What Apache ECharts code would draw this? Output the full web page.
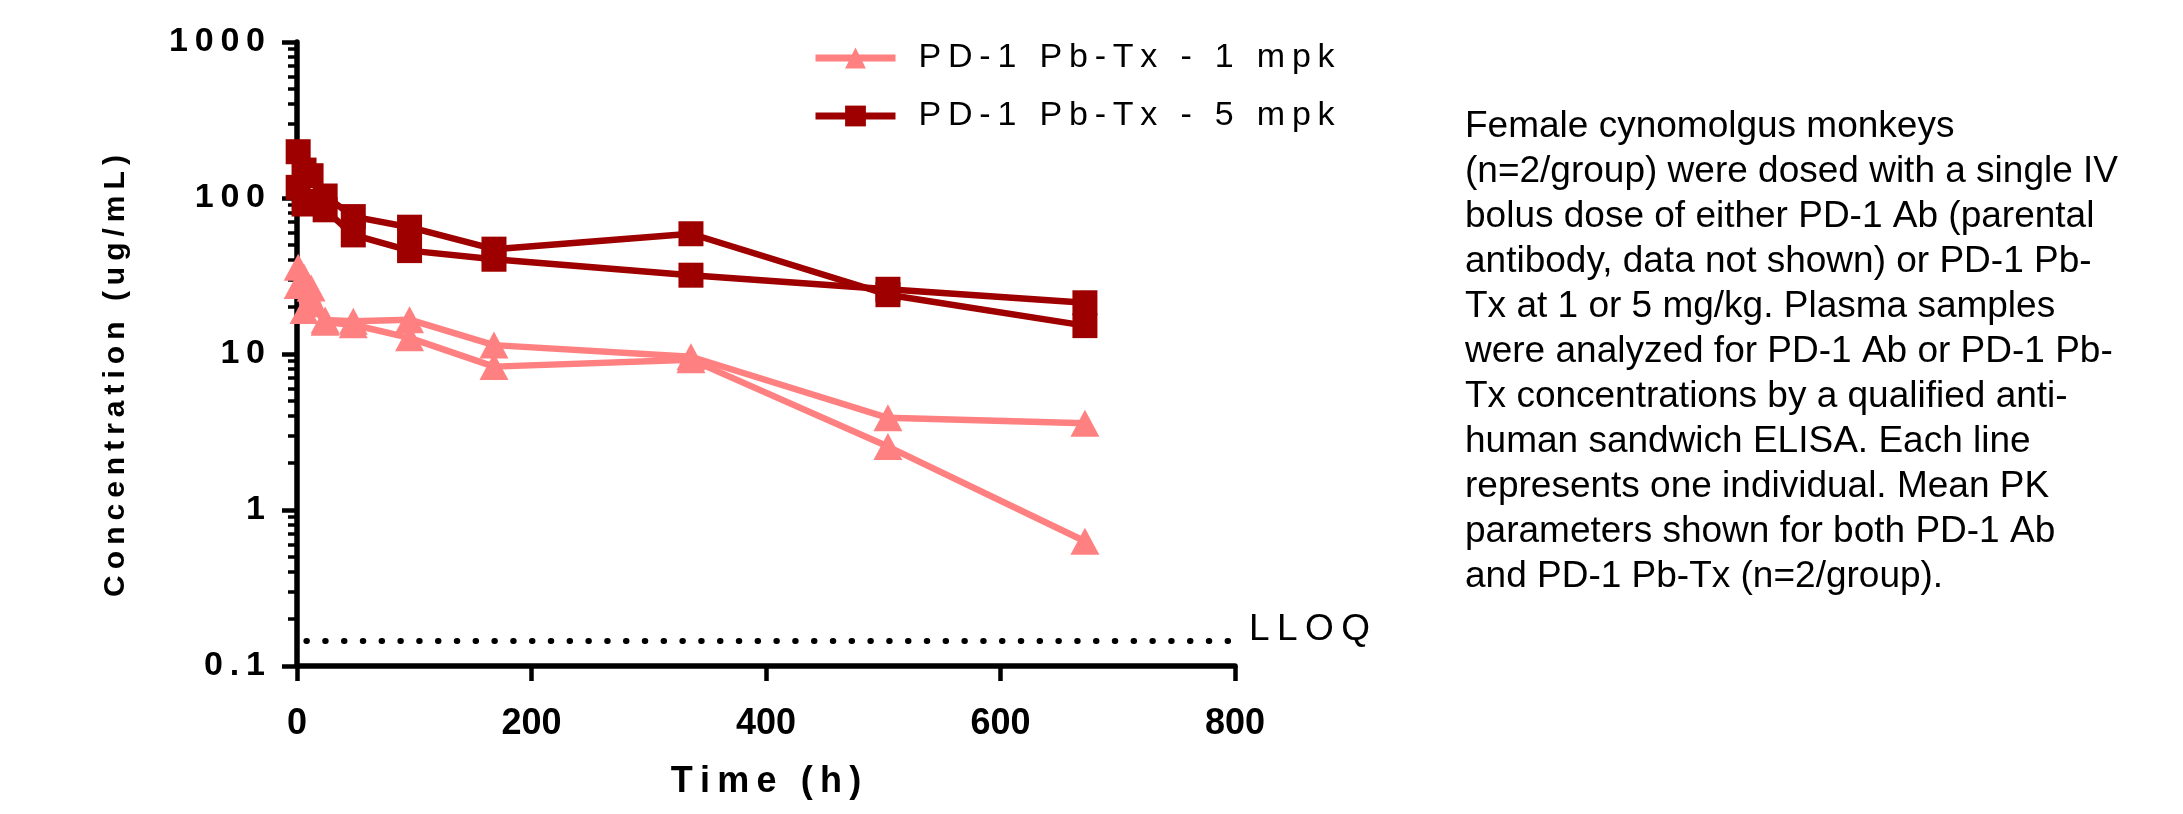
<!DOCTYPE html>
<html>
<head>
<meta charset="utf-8">
<script src="https://cdn.jsdelivr.net/npm/echarts@6/dist/echarts.min.js"></script>
<style>
  html, body { margin: 0; background: #fff; }
  #chart { width: 2183px; height: 814px; }
</style>
</head>
<body>
<div id="chart"></div>
<script>
// sampling times (h)
var times = [1, 6, 12, 24, 48, 96, 168, 336, 504, 672];
// PD-1 Pb-Tx 1 mpk, two animals
var mpk1_a = [36, 31, 26.5, 16.5, 16.2, 16.6, 11.4, 9.6, 3.9, 3.6];
var mpk1_b = [27.5, 19, 21, 16, 15.4, 12.7, 8.3, 9.2, 2.55, 0.63];
// PD-1 Pb-Tx 5 mpk, two animals
var mpk5_a = [198, 151, 139, 103, 76, 65, 47, 59, 24, 15.2];
var mpk5_b = [117, 91.5, 95, 84, 58, 46, 40.5, 32, 26, 21.3];
var lloq = 0.145;
var lloqFrom = 8;
var xTicks = [0, 200, 400, 600, 800];
var yMinorTicks = [0.2, 0.3, 0.4, 0.5, 0.6, 0.7, 0.8, 0.9, 2, 3, 4, 5, 6, 7, 8, 9,
  20, 30, 40, 50, 60, 70, 80, 90, 200, 300, 400, 500, 600, 700, 800, 900];
var legendNames = ['PD-1 Pb-Tx - 1 mpk', 'PD-1 Pb-Tx - 5 mpk'];
var caption = [
  'Female cynomolgus monkeys',
  '(n=2/group) were dosed with a single IV',
  'bolus dose of either PD-1 Ab (parental',
  'antibody, data not shown) or PD-1 Pb-',
  'Tx at 1 or 5 mg/kg. Plasma samples',
  'were analyzed for PD-1 Ab or PD-1 Pb-',
  'Tx concentrations by a qualified anti-',
  'human sandwich ELISA. Each line',
  'represents one individual. Mean PK',
  'parameters shown for both PD-1 Ab',
  'and PD-1 Pb-Tx (n=2/group).'
];

var PINK = '#ff8080';
var DARK = '#9e0000';
var FONT = '"Liberation Sans", Arial, sans-serif';
var THIN = '\u2009';

// graphpad style letter spacing
function spaced(s) {
  return String(s).split('').join(THIN);
}
function pairs(ys) {
  return times.map(function (t, i) { return [t, ys[i]]; });
}

function lineSeries(name, ys, color, symbol, size) {
  return {
    name: name,
    type: 'line',
    data: pairs(ys),
    symbol: symbol,
    symbolSize: size,
    showAllSymbol: true,
    lineStyle: { color: color, width: 6.5 },
    itemStyle: { color: color },
    emphasis: { disabled: true },
    z: 3
  };
}

var chart = echarts.init(document.getElementById('chart'));

var s1 = lineSeries(legendNames[0], mpk1_a, PINK, 'triangle', [29, 27]);
s1.markLine = {
  silent: true,
  symbol: ['none', 'none'],
  animation: false,
  lineStyle: { color: '#000', width: 6, type: [0.5, 18.3], cap: 'round' },
  label: {
    show: true,
    position: 'end',
    formatter: spaced('LLOQ'),
    fontSize: 37,
    fontFamily: FONT,
    color: '#000',
    distance: 14,
    verticalAlign: 'bottom',
    lineHeight: 22
  },
  data: [[{ coord: [lloqFrom, lloq] }, { coord: [xTicks[xTicks.length - 1], lloq] }]]
};

var option = {
  backgroundColor: '#fff',
  animation: false,
  grid: { left: 297, right: 948, top: 42, bottom: 148 },
  legend: {
    data: legendNames,
    orient: 'vertical',
    left: 812,
    top: 41,
    padding: 0,
    itemWidth: 80,
    itemHeight: 26,
    itemGap: 24,
    selectedMode: false,
    lineStyle: { width: 7 },
    formatter: function (n) { return spaced(n); },
    textStyle: { fontSize: 34, fontFamily: FONT, color: '#000', padding: [0, 0, 0, 18], lineHeight: 34 }
  },
  xAxis: {
    type: 'value',
    min: xTicks[0],
    max: xTicks[xTicks.length - 1],
    interval: 200,
    name: spaced('Time (h)'),
    nameLocation: 'middle',
    nameGap: 98,
    nameTextStyle: { fontSize: 36, fontWeight: 'bold', fontFamily: FONT, color: '#000' },
    axisLine: { lineStyle: { color: '#000', width: 5.5 } },
    axisTick: { length: 15, lineStyle: { color: '#000', width: 4.5 } },
    axisLabel: { fontSize: 36, fontWeight: 'bold', fontFamily: FONT, color: '#000', margin: 40 },
    splitLine: { show: false }
  },
  yAxis: [{
    type: 'log',
    logBase: 10,
    min: 0.1,
    max: 1000,
    position: 'left',
    name: spaced('Concentration (ug/mL)'),
    nameLocation: 'middle',
    nameGap: 166,
    nameTextStyle: { fontSize: 30, fontWeight: 'bold', fontFamily: FONT, color: '#000', padding: [0, 44, 0, 0] },
    axisLine: { lineStyle: { color: '#000', width: 5.5 } },
    axisTick: { length: 15, lineStyle: { color: '#000', width: 4.5 } },
    axisLabel: {
      fontSize: 34, fontWeight: 'bold', fontFamily: FONT, color: '#000', margin: 32,
      formatter: function (v) { return spaced(v); }
    },
    splitLine: { show: false }
  }, {
    type: 'log',
    logBase: 10,
    min: 0.1,
    max: 1000,
    position: 'left',
    axisLine: { show: false },
    axisTick: { length: 9, customValues: yMinorTicks, lineStyle: { color: '#000', width: 3.5 } },
    axisLabel: { show: false },
    splitLine: { show: false }
  }],
  graphic: [{
    type: 'text',
    left: 1465,
    top: 104,
    style: {
      text: caption.join('\n'),
      fontSize: 37,
      fontFamily: FONT,
      lineHeight: 45,
      fill: '#000'
    }
  }],
  series: [
    s1,
    lineSeries(legendNames[0], mpk1_b, PINK, 'triangle', [29, 27]),
    lineSeries(legendNames[1], mpk5_a, DARK, 'rect', 25),
    lineSeries(legendNames[1], mpk5_b, DARK, 'rect', 25)
  ]
};

chart.setOption(option);
</script>
</body>
</html>
